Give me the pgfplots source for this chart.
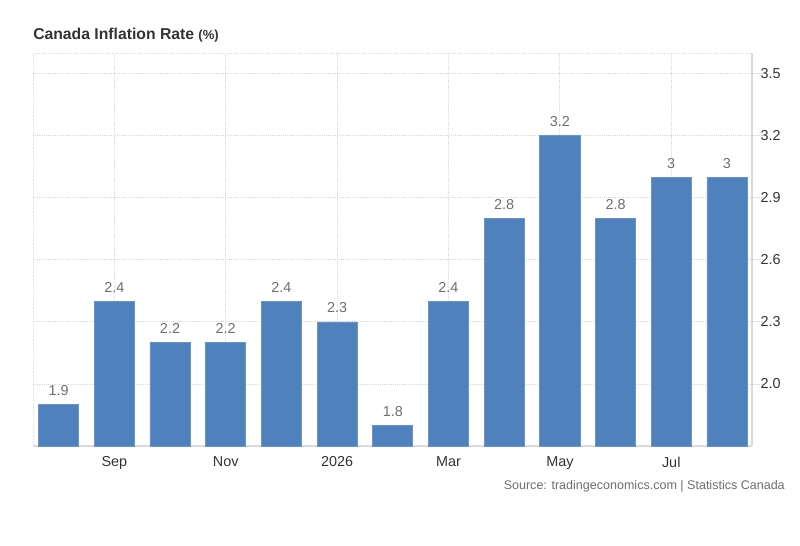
\documentclass[border=0pt]{standalone}
\usepackage{pgfplots}
\pgfplotsset{compat=1.18}
\usepackage{fontspec}
\setmainfont{Liberation Sans}
\definecolor{barblue}{HTML}{4F81BD}
\definecolor{gridgray}{HTML}{DADADA}
\definecolor{labgray}{HTML}{333333}
\definecolor{valgray}{HTML}{6E6E6E}
\begin{document}
\begin{tikzpicture}
% page frame, 800x546 px at 0.75pt per px
\path (0pt,0pt) rectangle (600pt,409.5pt);
\begin{axis}[
    at={(24.75pt,75pt)}, anchor=south west,
    scale only axis,
    width=539.25pt, height=294.75pt,
    xmin=-0.46, xmax=12.45,
    ymin=1.7, ymax=3.6,
    xtick={1,3,5,7,9,11},
    xticklabels={Sep,Nov,2026,Mar,May,Jul},
    ytick={2.0,2.3,2.6,2.9,3.2,3.5},
    yticklabel style={/pgf/number format/fixed,/pgf/number format/fixed zerofill,/pgf/number format/precision=1, xshift=-6pt},
    /pgf/number format/assume math mode=true,
    ticklabel style={font=\fontsize{10.8}{12}\selectfont, text=labgray},
    xticklabel style={yshift=4.5pt},
    axis y line*=right,
    axis x line*=bottom,
    axis line style={gridgray, line width=0.8pt, -},
    xtick style={draw=none},
    ytick style={gridgray, densely dotted, line width=0.6pt},
    tick align=outside,
    major tick length=9pt,
    grid=major,
    major grid style={gridgray, densely dotted, line width=0.6pt},
    ybar,
    bar width=0.72,
    nodes near coords,
    every node near coord/.append style={font=\fontsize{10.8}{12}\selectfont, text=valgray, yshift=3pt},
    point meta=explicit symbolic,
    clip=false,
]
\addplot[fill=barblue, draw=barblue!85!white, line width=0.5pt] coordinates {
    (0,1.9) [1.9]
    (1,2.4) [2.4]
    (2,2.2) [2.2]
    (3,2.2) [2.2]
    (4,2.4) [2.4]
    (5,2.3) [2.3]
    (6,1.8) [1.8]
    (7,2.4) [2.4]
    (8,2.8) [2.8]
    (9,3.2) [3.2]
    (10,2.8) [2.8]
    (11,3.0) [3]
    (12,3.0) [3]
};
\draw[gridgray, densely dotted, line width=0.6pt] (axis cs:-0.46,1.7) -- (axis cs:-0.46,3.6);
\draw[gridgray, densely dotted, line width=0.6pt] (axis cs:-0.46,3.6) -- (axis cs:12.45,3.6);
\end{axis}
\node[anchor=base west, inner sep=0, text=labgray] at (24.75pt,379.5pt)
    {\fontsize{11.8}{14}\selectfont\bfseries Canada Inflation Rate \fontsize{9.8}{12}\selectfont(\%)};
\node[anchor=base east, inner sep=0, text=valgray] at (588.75pt,42pt)
    {\fontsize{9.4}{11}\selectfont Source: tradingeconomics.com | Statistics Canada};
\end{tikzpicture}
\end{document}
